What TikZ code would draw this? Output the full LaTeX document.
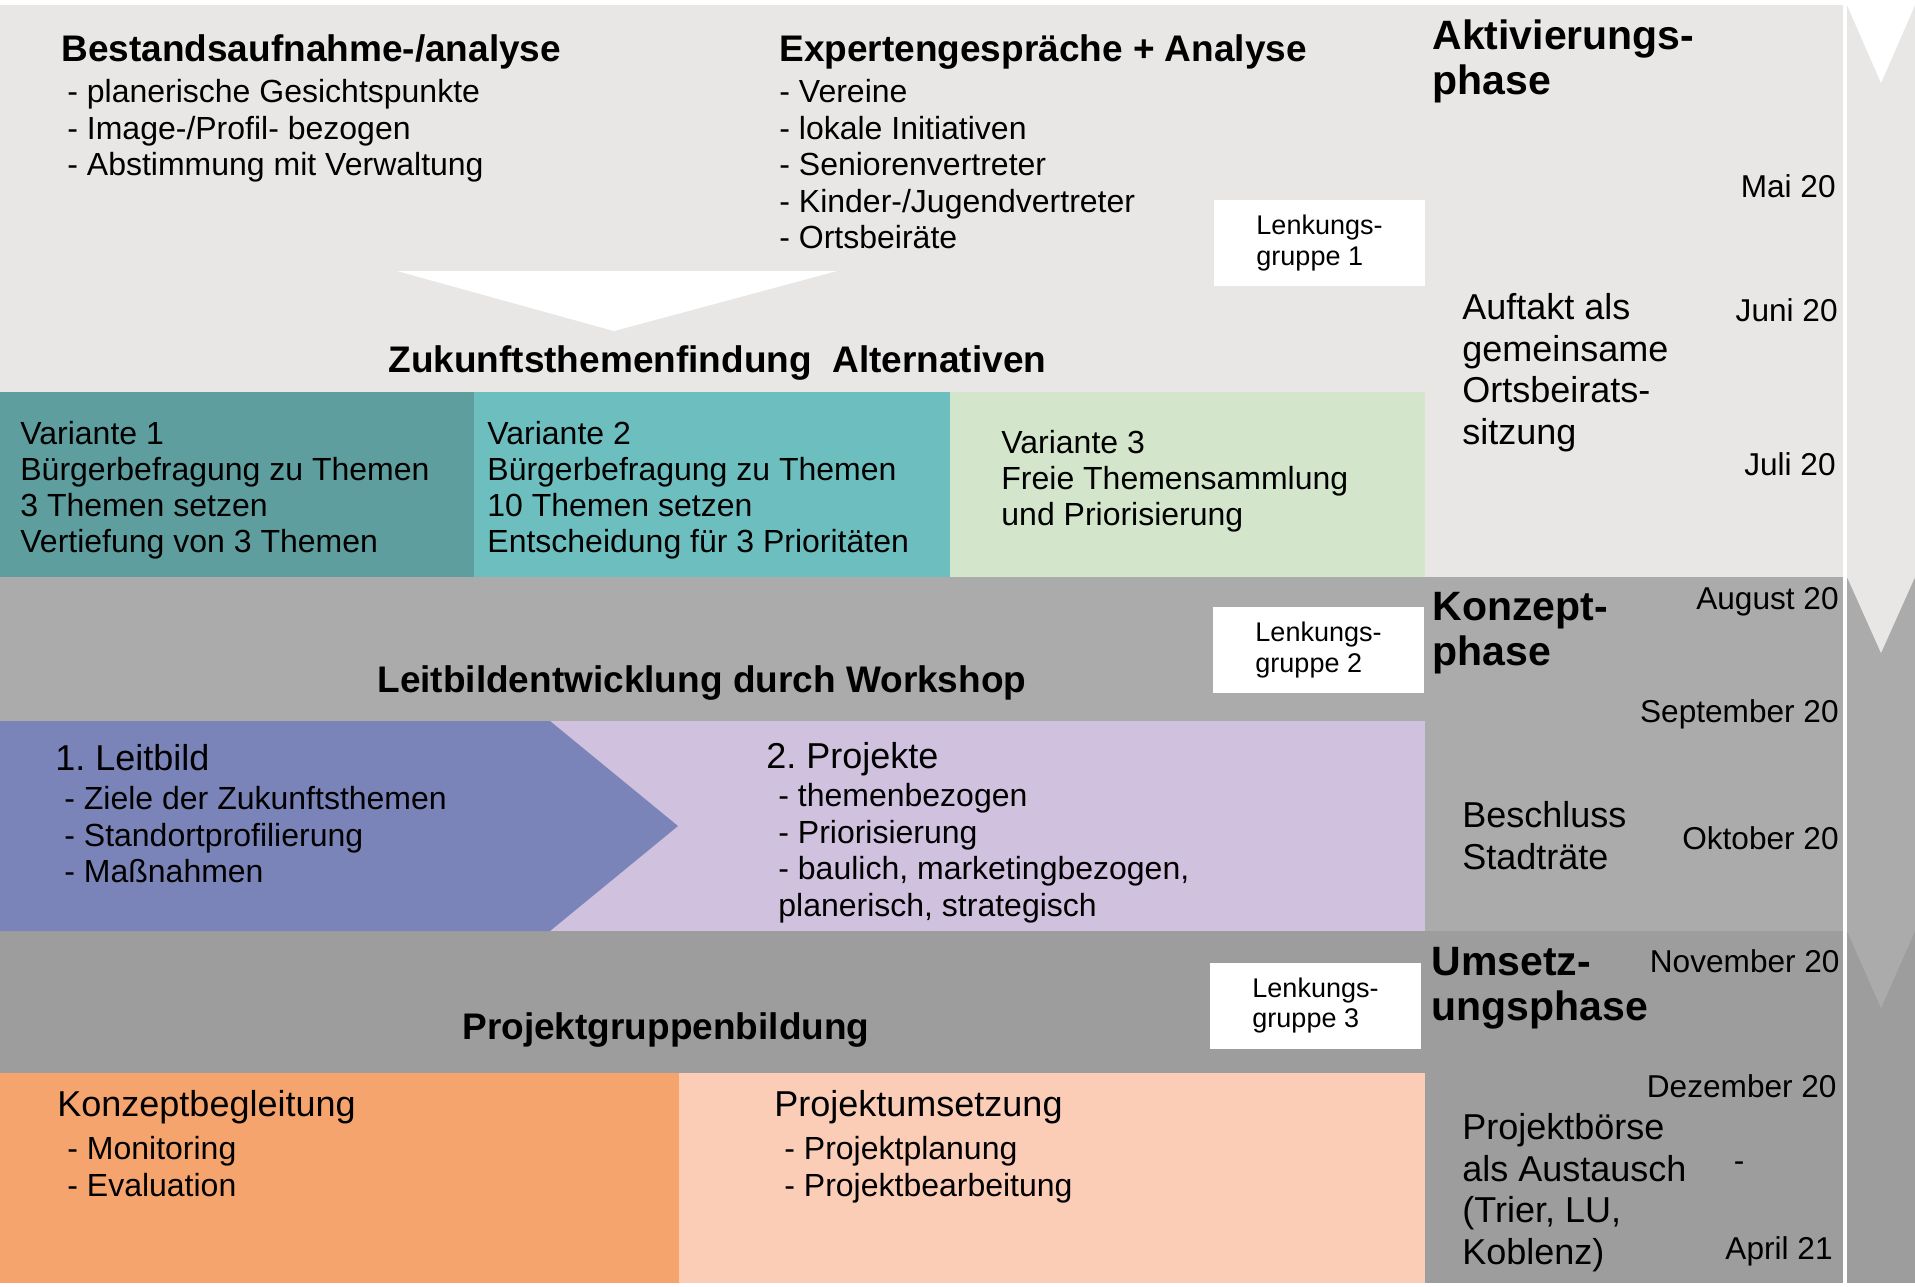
\documentclass[tikz,border=0pt]{standalone}
\usepackage{fontspec}
\setmainfont{Liberation Sans}
\definecolor{bandA}{HTML}{E8E7E6}
\definecolor{bandB}{HTML}{ABABAB}
\definecolor{bandC}{HTML}{9D9D9D}
\definecolor{varA}{HTML}{5E9E9E}
\definecolor{varB}{HTML}{6DBFBF}
\definecolor{varC}{HTML}{D3E6CB}
\definecolor{leit}{HTML}{7B84B8}
\definecolor{proj}{HTML}{D0C1DE}
\definecolor{begl}{HTML}{F4A46C}
\definecolor{umse}{HTML}{FBCCB6}
\frenchspacing
\begin{document}
\begin{tikzpicture}
    [x=0.5pt,y=-0.5pt,inner sep=0pt,
     head/.style={font=\bfseries\fontsize{18.5}{22}\selectfont,anchor=base west},
     phase/.style={font=\bfseries\fontsize{20.5}{22.5}\selectfont,anchor=north west,align=left},
     txt/.style={font=\fontsize{16}{18.25}\selectfont,anchor=north west,align=left},
     big/.style={font=\fontsize{18}{20.8}\selectfont,anchor=north west,align=left},
     title/.style={font=\fontsize{18}{20.8}\selectfont,anchor=base west},
     date/.style={font=\fontsize{15.8}{18}\selectfont,anchor=base east},
     lenk/.style={fill=white,minimum width=105.5pt,minimum height=43pt,align=left,
       font=\fontsize{13.5}{15.25}\selectfont}]
    \useasboundingbox (0,0) rectangle (1915,1286);
    % bands
    \fill [bandA] (0,5) rectangle (1843,577);
    \fill [bandB] (0,577) rectangle (1843,931);
    \fill [bandC] (0,931) rectangle (1843,1283);
    % time arrow on the right
    \fill [bandA] (1847,5) rectangle (1915,577);
    \fill [bandB] (1847,577) rectangle (1915,931);
    \fill [bandC] (1847,931) rectangle (1915,1283);
    \fill [white] (1847,5) -- (1915,5) -- (1881,83) -- cycle;
    \fill [bandA] (1847,577) -- (1915,577) -- (1881,653) -- cycle;
    \fill [bandB] (1847,931) -- (1915,931) -- (1881,1008) -- cycle;

    % Aktivierungsphase
    \node (bestand) at (61,61) [head] {Bestandsaufnahme-/analyse};
    \node (bestlist) at (67,79) [txt] {- planerische Gesichtspunkte\\- Image-/Profil- bezogen\\- Abstimmung mit Verwaltung};
    \node (experten) at (779,61) [head] {Expertengespräche + Analyse};
    \node (explist) at (779,79) [txt] {- Vereine\\- lokale Initiativen\\- Seniorenvertreter\\- Kinder-/Jugendvertreter\\- Ortsbeiräte};
    \node (lenk1) at (1319.5,243) [lenk] {Lenkungs-\\gruppe 1};
    \fill [white] (397,271) -- (837,271) -- (614,331) -- cycle;
    \node (zukunft) at (388,372) [head] {Zukunftsthemenfindung\ \ Alternativen};
    \fill [varA] (0,392) rectangle (474,577);
    \fill [varB] (474,392) rectangle (950,577);
    \fill [varC] (950,392) rectangle (1425,577);
    \node (var1) at (20,421) [txt,font=\fontsize{16}{18}\selectfont] {Variante 1\\Bürgerbefragung zu Themen\\3 Themen setzen\\Vertiefung von 3 Themen};
    \node (var2) at (487,421) [txt,font=\fontsize{16}{18}\selectfont] {Variante 2\\Bürgerbefragung zu Themen\\10 Themen setzen\\Entscheidung für 3 Prioritäten};
    \node (var3) at (1001,430) [txt,font=\fontsize{16}{18}\selectfont] {Variante 3\\Freie Themensammlung\\und Priorisierung};
    \node (aktiv) at (1432,19) [phase] {Aktivierungs-\\phase};
    \node (auftakt) at (1462,293) [big] {Auftakt als\\gemeinsame\\Ortsbeirats-\\sitzung};
    \node (mai) at (1836,197.5) [date] {Mai 20};
    \node (juni) at (1838,321.5) [date] {Juni 20};
    \node (juli) at (1836,475.5) [date] {Juli 20};

    % Konzeptphase
    \node (lenk2) at (1318.5,650) [lenk] {Lenkungs-\\gruppe 2};
    \node (workshop) at (377,692) [head] {Leitbildentwicklung durch Workshop};
    \fill [proj] (0,721) rectangle (1425,931);
    \fill [leit] (0,721) -- (550,721) -- (678,826) -- (550,931) -- (0,931) -- cycle;
    \node (leitbild) at (55,770) [title] {1. Leitbild};
    \node (leitlist) at (64,786) [txt] {- Ziele der Zukunftsthemen\\- Standortprofilierung\\- Maßnahmen};
    \node (projekte) at (766,768) [title] {2. Projekte};
    \node (projlist) at (778,783) [txt] {- themenbezogen\\- Priorisierung\\- baulich, marketingbezogen,\\planerisch, strategisch};
    \node (konzept) at (1432,592) [phase] {Konzept-\\phase};
    \node (beschluss) at (1462,801) [big] {Beschluss\\Stadträte};
    \node (aug) at (1839,609.5) [date] {August 20};
    \node (sep) at (1839,722.5) [date] {September 20};
    \node (okt) at (1839,849.5) [date] {Oktober 20};

    % Umsetzungsphase
    \node (lenk3) at (1315.5,1005.5) [lenk] {Lenkungs-\\gruppe 3};
    \node (gruppen) at (462,1039) [head] {Projektgruppenbildung};
    \fill [begl] (0,1073) rectangle (679,1283);
    \fill [umse] (679,1073) rectangle (1425,1283);
    \node (begleitung) at (57,1116) [title] {Konzeptbegleitung};
    \node (beglist) at (67,1136) [txt] {- Monitoring\\- Evaluation};
    \node (umsetzung) at (774,1116) [title] {Projektumsetzung};
    \node (umslist) at (784,1136) [txt] {- Projektplanung\\- Projektbearbeitung};
    \node (umsetz) at (1431,947) [phase] {Umsetz-\\ungsphase};
    \node (boerse) at (1462,1113) [big] {Projektbörse\\als Austausch\\(Trier, LU,\\Koblenz)};
    \node (nov) at (1840,972.5) [date] {November 20};
    \node (dez) at (1837,1097.5) [date] {Dezember 20};
    \node (bis) at (1739,1171.5) [date,anchor=base] {-};
    \node (apr) at (1833,1259.5) [date] {April 21};
\end{tikzpicture}
\end{document}
